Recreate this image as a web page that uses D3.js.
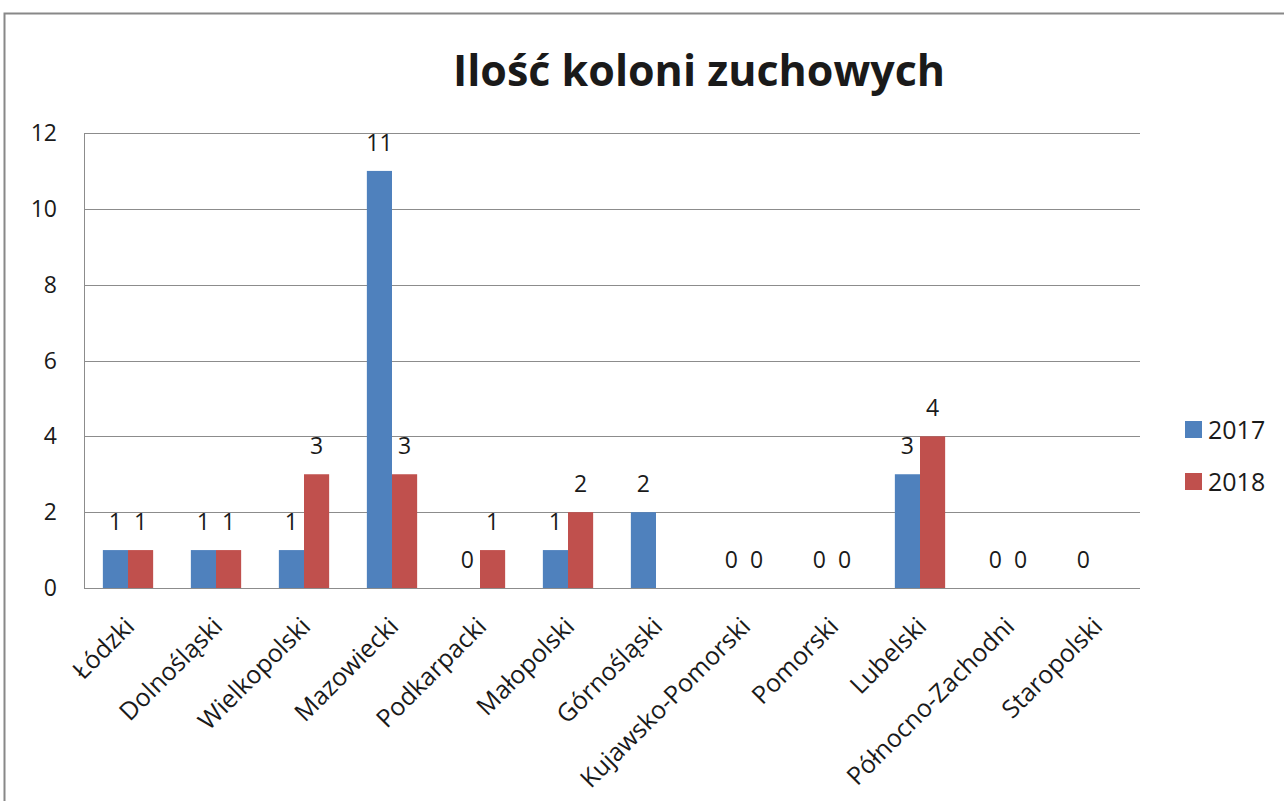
<!DOCTYPE html>
<html>
<head>
<meta charset="utf-8">
<script src="https://cdn.jsdelivr.net/npm/d3@7"></script>
<style>
  body { margin: 0; background: #fff; }
  text { font-family: "Open Sans", "Noto Sans", sans-serif; fill: #1a1a1a; }
</style>
</head>
<body>
<div id="chart"></div>
<script>
var categories = ['Łódzki', 'Dolnośląski', 'Wielkopolski', 'Mazowiecki', 'Podkarpacki',
  'Małopolski', 'Górnośląski', 'Kujawsko-Pomorski', 'Pomorski', 'Lubelski',
  'Północno-Zachodni', 'Staropolski'];
var years = ['2017', '2018'];
var values2017 = [1, 1, 1, 11, 0, 1, 2, 0, 0, 3, 0, 0];
var values2018 = [1, 1, 3, 3, 1, 2, null, 0, 0, 4, 0, null];
var yTicks = [0, 2, 4, 6, 8, 10, 12];
var colors = ['#4f81bd', '#c0504d'];

var W = 1284, H = 801;
var plot = { left: 84, right: 1140, top: 133, bottom: 588 };

var svg_ = d3.select('#chart')
  .append('svg')
    .attr('width', W)
    .attr('height', H);

// outer chart frame
svg_.append('rect')
  .attr('x', 4.5).attr('y', 13.5)
  .attr('width', W + 10).attr('height', H + 10)
  .attr('fill', 'none')
  .attr('stroke', '#888')
  .attr('stroke-width', 2);

var x_ = d3.scaleBand()
  .domain(categories)
  .range([plot.left, plot.right]);

var inner_ = d3.scaleBand()
  .domain(years)
  .range([0, x_.bandwidth()])
  .paddingInner(0)
  .paddingOuter(0.75);

var y_ = d3.scaleLinear()
  .domain([0, 12])
  .range([plot.bottom, plot.top]);

// gridlines
svg_.append('g')
  .selectAll('line')
  .data(yTicks)
  .enter().append('line')
    .attr('x1', plot.left).attr('x2', plot.right)
    .attr('y1', function(d) { return Math.round(y_(d)) + 0.5; })
    .attr('y2', function(d) { return Math.round(y_(d)) + 0.5; })
    .attr('stroke', '#8c8c8c')
    .attr('stroke-width', 1);

// left axis line
svg_.append('line')
  .attr('x1', plot.left + 0.5).attr('x2', plot.left + 0.5)
  .attr('y1', plot.top).attr('y2', plot.bottom)
  .attr('stroke', '#8c8c8c');

// y tick labels
svg_.append('g')
  .selectAll('text')
  .data(yTicks)
  .enter().append('text')
    .attr('x', 57)
    .attr('y', function(d) { return y_(d); })
    .attr('dy', '0.35em')
    .attr('text-anchor', 'end')
    .attr('font-size', 23)
    .text(function(d) { return d; });

var series = [values2017, values2018];

var rows = [];
series.forEach(function(vals, s) {
  vals.forEach(function(v, i) {
    rows.push({ year: years[s], cat: categories[i], value: v, s: s });
  });
});

svg_.append('g')
  .selectAll('rect')
  .data(rows.filter(function(d) { return d.value; }))
  .enter().append('rect')
    .attr('x', function(d) { return x_(d.cat) + inner_(d.year); })
    .attr('y', function(d) { return y_(d.value); })
    .attr('width', inner_.bandwidth())
    .attr('height', function(d) { return y_(0) - y_(d.value); })
    .attr('fill', function(d) { return colors[d.s]; });

// data labels
svg_.append('g')
  .selectAll('text')
  .data(rows.filter(function(d) { return d.value !== null; }))
  .enter().append('text')
    .attr('x', function(d) { return x_(d.cat) + inner_(d.year) + inner_.bandwidth() / 2; })
    .attr('y', function(d) { return y_(d.value) - 20; })
    .attr('text-anchor', 'middle')
    .attr('font-size', 23)
    .text(function(d) { return d.value; });

// category labels
svg_.append('g')
  .selectAll('text')
  .data(categories)
  .enter().append('text')
    .attr('transform', function(d) {
      var cx = x_(d) + x_.bandwidth() / 2 + 8;
      return 'translate(' + cx + ',' + 628 + ') rotate(-45)';
    })
    .attr('text-anchor', 'end')
    .attr('font-size', 25)
    .text(function(d) { return d; });

// title
svg_.append('text')
  .attr('x', 699)
  .attr('y', 86)
  .attr('text-anchor', 'middle')
  .attr('font-size', 43)
  .attr('font-weight', 'bold')
  .text('Ilość koloni zuchowych');

// legend
var legend = svg_.append('g')
  .selectAll('g')
  .data(years)
  .enter().append('g')
    .attr('transform', function(d, i) { return 'translate(1185,' + (421 + i * 52) + ')'; });

legend.append('rect')
  .attr('width', 17).attr('height', 17)
  .attr('fill', function(d, i) { return colors[i]; });

legend.append('text')
  .attr('x', 23)
  .attr('y', 9)
  .attr('dy', '0.35em')
  .attr('font-size', 25)
  .text(function(d) { return d; });
</script>
</body>
</html>
